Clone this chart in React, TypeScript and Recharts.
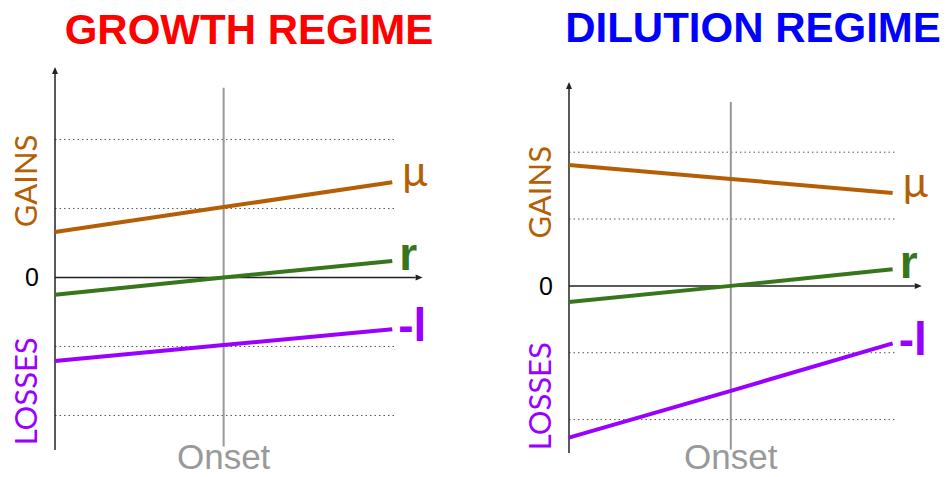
import { LineChart, Line, XAxis, YAxis, ReferenceLine } from "recharts";

// x positions: start, onset, end
const xCats = [0, 1, 2];

const growthMu = [0.66, 1.02, 1.38];
const growthR = [-0.25, 0, 0.24];
const growthL = [-1.21, -0.98, -0.75];

const dilutionMu = [1.81, 1.6, 1.39];
const dilutionR = [-0.24, 0, 0.25];
const dilutionL = [-2.27, -1.57, -0.86];

const gridValues = [2, 1, -1, -2];
const yTickValues = [-1.65, 0, 1.4];
const yTickLabels = ["LOSSES", "0", "GAINS"];
const onsetValue = 1;
const seriesLabels = { mu: "μ", r: "r", l: "-l" };

const MU = "#b45f06";
const GREEN = "#38761d";
const PURPLE = "#9900ff";

const toRows = (mu: number[], r: number[], l: number[]) =>
  xCats.map((x, i) => ({ x, mu: mu[i], r: r[i], l: l[i] }));

const growthData = toRows(growthMu, growthR, growthL);
const dilutionData = toRows(dilutionMu, dilutionR, dilutionL);

const Arrow = (p: any) => {
  const { x1, y1, x2, y2 } = p;
  const len = Math.hypot(x2 - x1, y2 - y1) || 1;
  const ux = (x2 - x1) / len;
  const uy = (y2 - y1) / len;
  const bx = x2 - ux * 7;
  const by = y2 - uy * 7;
  const pts = `${x2},${y2} ${bx - uy * 3},${by + ux * 3} ${bx + uy * 3},${by - ux * 3}`;
  return (
    <g>
      <line x1={x1} y1={y1} x2={bx} y2={by} stroke="#222" strokeWidth={1.5} />
      <polygon points={pts} fill="#222" />
    </g>
  );
};

const YTick = (p: any) => {
  const { x, y, payload } = p;
  const label = yTickLabels[yTickValues.indexOf(payload.value)];
  if (payload.value === 0) {
    return (
      <text x={x - 8} y={y + 9} textAnchor="end" fontSize={25} fill="#000"
        fontFamily="'Liberation Sans', Arial, sans-serif">{label}</text>
    );
  }
  const cx = x - 22;
  return (
    <text x={cx} y={y} transform={`rotate(-90 ${cx} ${y})`} textAnchor="middle"
      dominantBaseline="central" fontSize={31} fontFamily="Lato, sans-serif"
      fill={payload.value > 0 ? MU : PURPLE}>{label}</text>
  );
};

// "Onset" baseline kept a little above the bottom edge
const XTick = (p: any) => (
  <text x={p.x} y={469} textAnchor="middle" fontSize={35} fill="#999999"
    fontFamily="'Liberation Sans', Arial, sans-serif">Onset</text>
);

const endLabel = (text: string, color: string, dx: number, dy: number, bold: boolean, size: number) =>
  (p: any) => {
    if (p.index !== xCats.length - 1) return null;
    return (
      <text x={p.x + dx} y={p.y + dy} fill={color} fontSize={size}
        fontWeight={bold ? "bold" : "normal"}
        fontFamily={bold ? "'Liberation Sans', Arial, sans-serif" : "Lato, sans-serif"}>
        {text}
      </text>
    );
  };

type PanelProps = {
  data: any[];
  left: number;
  marginLeft: number;
  marginRight: number;
  top: number;
  xAxisHeight: number;
};

const Panel = ({ data, left, marginLeft, marginRight, top, xAxisHeight }: PanelProps) => (
  <div style={{ position: "absolute", left, top: 0 }}>
    <LineChart width={473} height={477} data={data}
      margin={{ top, right: marginRight, bottom: 0, left: marginLeft }}>
      <XAxis dataKey="x" type="number" domain={[0, 2.2]} ticks={[onsetValue]}
        axisLine={false} tickLine={false} height={xAxisHeight} interval={0} tick={<XTick />} />
      <YAxis type="number" domain={[-2.5, 3.05]} ticks={yTickValues} width={55}
        axisLine={false} tickLine={false} interval={0} tick={<YTick />} />
      {gridValues.map((g) => (
        <ReferenceLine key={g} segment={[{ x: 0, y: g }, { x: 2.02, y: g }]}
          stroke="#555" strokeWidth={1} strokeDasharray="1.5 3" />
      ))}
      <ReferenceLine segment={[{ x: onsetValue, y: -2.45 }, { x: onsetValue, y: 2.75 }]}
        stroke="#999999" strokeWidth={2} />
      <ReferenceLine segment={[{ x: 0, y: -2.5 }, { x: 0, y: 3.05 }]} shape={Arrow} />
      <ReferenceLine segment={[{ x: 0, y: 0 }, { x: 2.18, y: 0 }]} shape={Arrow} />
      <Line dataKey="mu" type="linear" stroke={MU} strokeWidth={4} dot={false}
        isAnimationActive={false} label={endLabel(seriesLabels.mu, MU, 10, 4, false, 42)} />
      <Line dataKey="r" type="linear" stroke={GREEN} strokeWidth={4} dot={false}
        isAnimationActive={false} label={endLabel(seriesLabels.r, GREEN, 7, 9, true, 46)} />
      <Line dataKey="l" type="linear" stroke={PURPLE} strokeWidth={4} dot={false}
        isAnimationActive={false} label={endLabel(seriesLabels.l, PURPLE, 6, 12, true, 46)} />
    </LineChart>
  </div>
);

const titleStyle = {
  position: "absolute" as const,
  top: 9,
  width: 473,
  textAlign: "center" as const,
  fontFamily: "'Liberation Sans', Arial, sans-serif",
  fontWeight: "bold" as const,
  fontSize: 42,
  lineHeight: "42px",
  whiteSpace: "nowrap" as const,
};

export default function App() {
  return (
    <div style={{ position: "relative", width: 946, height: 477, background: "#fff", overflow: "hidden" }}>
      <style>{"body{margin:0}"}</style>
      <Panel data={growthData} left={0} marginLeft={0} marginRight={47} top={67} xAxisHeight={27} />
      <Panel data={dilutionData} left={473} marginLeft={41} marginRight={21} top={82} xAxisHeight={24} />
      <div style={{ ...titleStyle, left: 249 - 236.5, color: "#ff0000" }}>GROWTH REGIME</div>
      <div style={{ ...titleStyle, left: 753 - 236.5, top: 7, color: "#0000ff" }}>DILUTION REGIME</div>
    </div>
  );
}
